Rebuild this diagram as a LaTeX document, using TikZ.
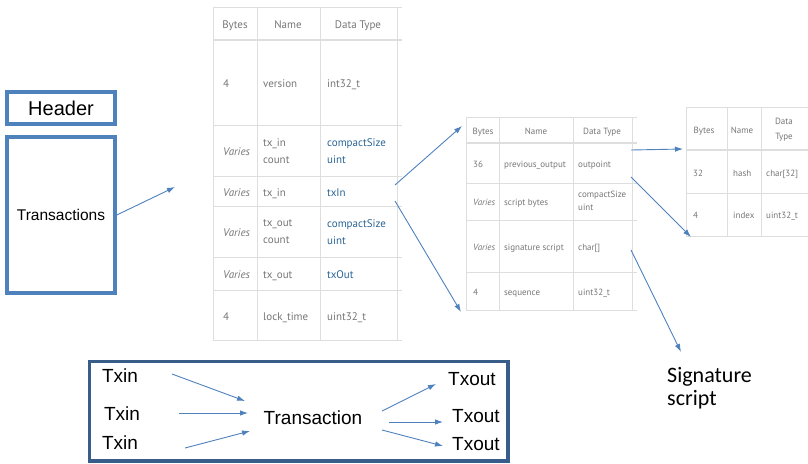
\documentclass[tikz,border=0pt]{standalone}
\usepackage{fontspec}
\setmainfont{Liberation Sans}
\newfontfamily\tabfont{PT Sans}
\newfontfamily\sigfont{Carlito}
\usetikzlibrary{arrows.meta}
\definecolor{boxblue}{RGB}{79,129,189}
\definecolor{darkblue}{RGB}{56,93,138}
\definecolor{gridgray}{RGB}{222,222,222}
\definecolor{textgray}{RGB}{118,118,118}
\definecolor{linkblue}{RGB}{42,100,150}

\begin{document}
\begin{tikzpicture}[x=1pt,y=-1pt,>={Latex[length=8pt,width=5.5pt]},
    grid/.style={draw=gridgray,line width=0.9pt},
    headrule/.style={draw=gridgray,line width=2pt},
    tcell/.style={anchor=west,inner sep=0pt,text=textgray,text height=2ex,text depth=.2ex},
    ttwo/.style={anchor=west,inner sep=0pt,text=textgray,align=left},
    thead/.style={inner sep=0pt,text=textgray,text height=2ex,text depth=.2ex},
    link/.style={text=linkblue},
    flow/.style={->,draw=boxblue,line width=0.9pt},
    blockbox/.style={draw=boxblue,line width=3.5pt,inner sep=0pt},
    big/.style={inner sep=0pt,font=\fontsize{19}{22}\selectfont}]
    \useasboundingbox (0,0) rectangle (808,463);

    % block: header and transactions
    \node[blockbox,minimum width=108pt,minimum height=32pt,font=\fontsize{20}{24}\selectfont] (header) at (61,108) {Header};
    \node[blockbox,minimum width=108pt,minimum height=156pt,font=\fontsize{15.5}{18}\selectfont] (trans) at (61,215) {Transactions};

    % transaction table
    \foreach \y in {7,125,176,206,257,290,340} {
        \draw[grid] (213,\y) -- (402,\y);
    }
    \draw[headrule] (213,40) -- (402,40);
    \foreach \x in {213,257,320,397} {
        \draw[grid] (\x,7) -- (\x,340);
    }
    \begin{scope}[font=\tabfont\fontsize{11}{17}\selectfont]
        \node[thead] (t1bytes) at (235,24) {Bytes};
        \node[thead] (t1name) at (288,24) {Name};
        \node[thead] (t1type) at (358,24) {Data Type};
        \node[tcell] (t1b1) at (223,83) {4};
        \node[tcell] (t1n1) at (263,83) {version};
        \node[tcell] (t1d1) at (327,83) {int32\_t};
        \node[tcell] (t1b2) at (223,151) {\textit{Varies}};
        \node[ttwo] (t1n2) at (263,151) {tx\_in\\count};
        \node[ttwo,link] (t1d2) at (327,151) {compactSize\\uint};
        \node[tcell] (t1b3) at (223,192) {\textit{Varies}};
        \node[tcell] (t1n3) at (263,192) {tx\_in};
        \node[tcell,link] (t1d3) at (327,192) {txIn};
        \node[tcell] (t1b4) at (223,232) {\textit{Varies}};
        \node[ttwo] (t1n4) at (263,232) {tx\_out\\count};
        \node[ttwo,link] (t1d4) at (327,232) {compactSize\\uint};
        \node[tcell] (t1b5) at (223,274) {\textit{Varies}};
        \node[tcell] (t1n5) at (263,274) {tx\_out};
        \node[tcell,link] (t1d5) at (327,274) {txOut};
        \node[tcell] (t1b6) at (223,316) {4};
        \node[tcell] (t1n6) at (263,316) {lock\_time};
        \node[tcell] (t1d6) at (327,316) {uint32\_t};
    \end{scope}

    % txin table
    \foreach \y in {117,183,220,272,310} {
        \draw[grid] (466,\y) -- (637,\y);
    }
    \draw[headrule] (466,143) -- (637,143);
    \foreach \x in {466,499,573,632} {
        \draw[grid] (\x,117) -- (\x,310);
    }
    \begin{scope}[font=\tabfont\fontsize{9}{12.5}\selectfont]
        \node[thead] (t2bytes) at (483,130) {Bytes};
        \node[thead] (t2name) at (536,130) {Name};
        \node[thead] (t2type) at (602,130) {Data Type};
        \node[tcell] (t2b1) at (473,163) {36};
        \node[tcell] (t2n1) at (504,163) {previous\_output};
        \node[tcell] (t2d1) at (578,163) {outpoint};
        \node[tcell] (t2b2) at (473,201) {\textit{Varies}};
        \node[tcell] (t2n2) at (504,201) {script bytes};
        \node[ttwo] (t2d2) at (578,201) {compactSize\\uint};
        \node[tcell] (t2b3) at (473,246) {\textit{Varies}};
        \node[tcell] (t2n3) at (504,246) {signature script};
        \node[tcell] (t2d3) at (578,246) {char[]};
        \node[tcell] (t2b4) at (473,291) {4};
        \node[tcell] (t2n4) at (504,291) {sequence};
        \node[tcell] (t2d4) at (578,291) {uint32\_t};
    \end{scope}

    % outpoint table
    \foreach \y in {107,193,236} {
        \draw[grid] (686,\y) -- (808,\y);
    }
    \draw[headrule] (686,150) -- (808,150);
    \foreach \x in {686,727,761} {
        \draw[grid] (\x,107) -- (\x,236);
    }
    \begin{scope}[font=\tabfont\fontsize{9}{15}\selectfont]
        \node[thead] (t3bytes) at (704,129) {Bytes};
        \node[thead] (t3name) at (742,129) {Name};
        \node[inner sep=0pt,text=textgray,align=center] (t3type) at (784,130) {Data\\Type};
        \node[tcell] (t3b1) at (693,172) {32};
        \node[tcell] (t3n1) at (733,172) {hash};
        \node[tcell] (t3d1) at (766,172) {char[32]};
        \node[tcell] (t3b2) at (693,214) {4};
        \node[tcell] (t3n2) at (733,214) {index};
        \node[tcell] (t3d2) at (766,214) {uint32\_t};
    \end{scope}

    \node[anchor=north west,inner sep=0pt,align=left,font=\sigfont\fontsize{22}{23}\selectfont] (sigtext) at (667,367) {Signature\\script};

    % links between the tables
    \coordinate (tabin) at (175,187);
    \coordinate (txinA) at (395,185);
    \coordinate (inTop) at (462,126);
    \coordinate (txinB) at (395,201);
    \coordinate (inBot) at (461,312);
    \coordinate (outA) at (631,150);
    \coordinate (hashTop) at (683,149);
    \coordinate (outB) at (631,177);
    \coordinate (hashBot) at (691,237);
    \coordinate (sigA) at (631,250);
    \coordinate (sigEnd) at (681,352);
    \draw[flow] (trans.east) -- (tabin);
    \draw[flow] (txinA) -- (inTop);
    \draw[flow] (txinB) -- (inBot);
    \draw[flow] (outA) -- (hashTop);
    \draw[flow] (outB) -- (hashBot);
    \draw[flow] (sigA) -- (sigEnd);

    % inputs and outputs
    \draw[draw=darkblue,line width=3.5pt] (89.5,361.5) rectangle (508,461);
    \node[big] (in1) at (120,376) {Txin};
    \node[big] (in2) at (122,414) {Txin};
    \node[big] (in3) at (120,443) {Txin};
    \node[big] (tx) at (313,418) {Transaction};
    \node[big] (out1) at (472,379) {Txout};
    \node[big] (out2) at (476,416) {Txout};
    \node[big] (out3) at (476,444) {Txout};
    \coordinate (a1) at (172,374); \coordinate (b1) at (245,401);
    \coordinate (a2) at (179,413); \coordinate (b2) at (248,413);
    \coordinate (a3) at (185,448); \coordinate (b3) at (250,431);
    \coordinate (c1) at (382,411); \coordinate (d1) at (436,384);
    \coordinate (c2) at (389,422); \coordinate (d2) at (443,422);
    \coordinate (c3) at (382,430); \coordinate (d3) at (443,446);
    \foreach \i in {1,2,3} {
        \draw[flow] (a\i) -- (b\i);
        \draw[flow] (c\i) -- (d\i);
    }
\end{tikzpicture}
\end{document}
